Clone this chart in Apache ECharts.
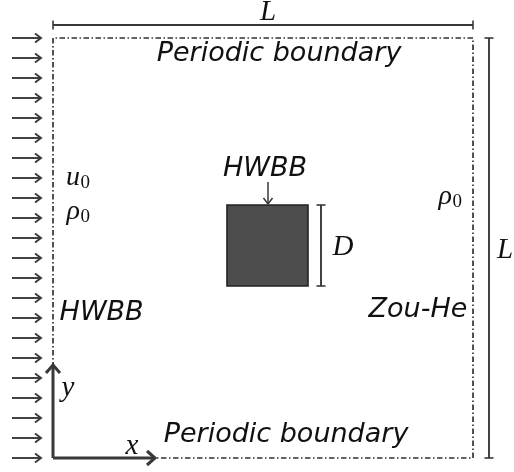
<!DOCTYPE html>
<html><head><meta charset="utf-8">
<script src="https://cdn.jsdelivr.net/npm/echarts@6/dist/echarts.min.js"></script>
<style>html,body{margin:0;padding:0;background:#fff}#c{width:514px;height:472px}</style>
</head><body><div id="c"></div>
<script>
// Domain units: side L = 21, one unit per inflow arrow spacing
const inflowY = [0,1,2,3,4,5,6,7,8,9,10,11,12,13,14,15,16,17,18,19,20,21];
const inflowX = [-2.05, -0.6];
const boundaryX = [0, 21, 21, 0, 0];
const boundaryY = [0, 0, 21, 21, 0];
const obstacleX = [8.7, 12.75];
const obstacleY = [8.6, 12.65];
const dimStart = [[0, 21.65], [21.8, 0], [13.4, 8.6]];
const dimEnd = [[21, 21.65], [21.8, 21], [13.4, 12.65]];
const axesOrigin = [0, 0];
const axesTip = [[5.1, 0], [0, 4.65]];
const pointerFrom = [10.75, 13.8];
const pointerTo = [10.75, 12.7];
const sansText = ['Periodic boundary', 'Periodic boundary', 'HWBB', 'HWBB', 'Zou-He'];
const sansX = [11.3, 11.65, 10.6, 2.43, 18.25];
const sansY = [20.2, 1.15, 14.45, 7.25, 7.4];
const mathText = ['L', 'L', 'D', 'x', 'y'];
const mathX = [10.75, 22.6, 14.5, 3.95, 0.75];
const mathY = [22.3, 10.4, 10.55, 0.6, 3.5];
const subBase = ['u', 'ρ', 'ρ'];
const subIndex = ['0', '0', '0'];
const subX = [1.35, 1.35, 19.95];
const subY = [14.0, 12.3, 13.05];

const INK = '#383838';
const SANS = '"DejaVu Sans", "Noto Sans", sans-serif';
const SERIF = '"Liberation Serif", "DejaVu Serif", serif';

function chevron(tip, from, len, half) {
  const dx = tip[0] - from[0], dy = tip[1] - from[1];
  const d = Math.sqrt(dx * dx + dy * dy);
  const ux = dx / d, uy = dy / d, px = -uy, py = ux;
  return [
    [tip[0] - ux * len + px * half, tip[1] - uy * len + py * half],
    [tip[0], tip[1]],
    [tip[0] - ux * len - px * half, tip[1] - uy * len - py * half]
  ];
}
function arrow(p1, p2, w, len, half) {
  return {
    type: 'group',
    children: [
      { type: 'line', shape: { x1: p1[0], y1: p1[1], x2: p2[0], y2: p2[1] }, style: { stroke: INK, lineWidth: w } },
      { type: 'polyline', shape: { points: chevron(p2, p1, len, half) }, style: { stroke: INK, lineWidth: w, fill: null, lineJoin: 'miter' } }
    ]
  };
}

const base = { type: 'custom', coordinateSystem: 'cartesian2d', silent: true, animation: false, clip: false };

const option = {
  animation: false,
  backgroundColor: '#fff',
  grid: { left: 0, right: 0, top: 0, bottom: 0 },
  xAxis: { type: 'value', min: -2.65, max: 23.05, show: false },
  yAxis: { type: 'value', min: -0.7, max: 22.9, show: false },
  series: [
    // boundary box (dash-dot)
    {
      type: 'line', silent: true, animation: false, symbol: 'none', z: 1,
      data: boundaryX.map((x, i) => [x, boundaryY[i]]),
      lineStyle: { color: '#333', width: 1.7, type: [5.5, 2.5, 1.5, 2.5] }
    },
    // inflow arrows
    Object.assign({}, base, {
      data: inflowY.map(y => [y]),
      renderItem: (p, api) => {
        const y = api.value(0);
        return arrow(api.coord([inflowX[0], y]), api.coord([inflowX[1], y]), 1.9, 6, 4.5);
      }
    }),
    // dimension lines
    Object.assign({}, base, {
      data: dimStart.map((s, i) => [s[0], s[1], dimEnd[i][0], dimEnd[i][1]]),
      renderItem: (p, api) => {
        const a = api.coord([api.value(0), api.value(1)]);
        const b = api.coord([api.value(2), api.value(3)]);
        const horiz = Math.abs(a[1] - b[1]) < 1;
        const h = 4.5;
        const cap = (q) => horiz
          ? { type: 'line', shape: { x1: q[0], y1: q[1] - h, x2: q[0], y2: q[1] + h }, style: { stroke: INK, lineWidth: 1.6 } }
          : { type: 'line', shape: { x1: q[0] - h, y1: q[1], x2: q[0] + h, y2: q[1] }, style: { stroke: INK, lineWidth: 1.6 } };
        return { type: 'group', children: [
          { type: 'line', shape: { x1: a[0], y1: a[1], x2: b[0], y2: b[1] }, style: { stroke: INK, lineWidth: 1.9 } },
          cap(a), cap(b)
        ] };
      }
    }),
    // obstacle
    Object.assign({}, base, {
      data: [[obstacleX[0], obstacleY[0], obstacleX[1], obstacleY[1]]],
      renderItem: (p, api) => {
        const a = api.coord([api.value(0), api.value(3)]);
        const b = api.coord([api.value(2), api.value(1)]);
        return { type: 'rect', shape: { x: a[0], y: a[1], width: b[0] - a[0], height: b[1] - a[1] },
          style: { fill: '#4d4d4d', stroke: '#222', lineWidth: 1.6 } };
      }
    }),
    // coordinate axes
    Object.assign({}, base, {
      z: 5,
      data: axesTip.map(t => [axesOrigin[0], axesOrigin[1], t[0], t[1]]),
      renderItem: (p, api) => arrow(api.coord([api.value(0), api.value(1)]), api.coord([api.value(2), api.value(3)]), 3, 8, 7)
    }),
    // HWBB pointer
    Object.assign({}, base, {
      data: [[pointerFrom[0], pointerFrom[1], pointerTo[0], pointerTo[1]]],
      renderItem: (p, api) => arrow(api.coord([api.value(0), api.value(1)]), api.coord([api.value(2), api.value(3)]), 1.5, 6, 4.5)
    }),
    // sans labels
    Object.assign({}, base, {
      z: 6,
      data: sansText.map((t, i) => [sansX[i], sansY[i], i]),
      renderItem: (p, api) => {
        const c = api.coord([api.value(0), api.value(1)]);
        return { type: 'text', style: { text: sansText[api.value(2)], x: c[0], y: c[1], fill: '#111',
          fontSize: 27, fontStyle: 'italic', fontFamily: SANS, align: 'center', verticalAlign: 'middle' } };
      }
    }),
    // math labels
    Object.assign({}, base, {
      z: 6,
      data: mathText.map((t, i) => [mathX[i], mathY[i], i]),
      renderItem: (p, api) => {
        const c = api.coord([api.value(0), api.value(1)]);
        return { type: 'text', style: { text: mathText[api.value(2)], x: c[0], y: c[1], fill: '#111',
          fontSize: 29, fontStyle: 'italic', fontFamily: SERIF, align: 'center', verticalAlign: 'middle' } };
      }
    }),
    // subscripted symbols
    Object.assign({}, base, {
      z: 6,
      data: subBase.map((t, i) => [subX[i], subY[i], i]),
      renderItem: (p, api) => {
        const c = api.coord([api.value(0), api.value(1)]);
        const i = api.value(2);
        return { type: 'group', children: [
          { type: 'text', style: { text: subBase[i], x: c[0], y: c[1], fill: '#111', fontSize: 28, fontStyle: 'italic',
            fontFamily: SERIF, align: 'right', verticalAlign: 'middle' } },
          { type: 'text', style: { text: subIndex[i], x: c[0] + 0.5, y: c[1] + 5, fill: '#111', fontSize: 19,
            fontFamily: SERIF, align: 'left', verticalAlign: 'middle' } }
        ] };
      }
    })
  ]
};
echarts.init(document.getElementById('c'), null, { renderer: 'canvas' }).setOption(option);
</script>
</body></html>
